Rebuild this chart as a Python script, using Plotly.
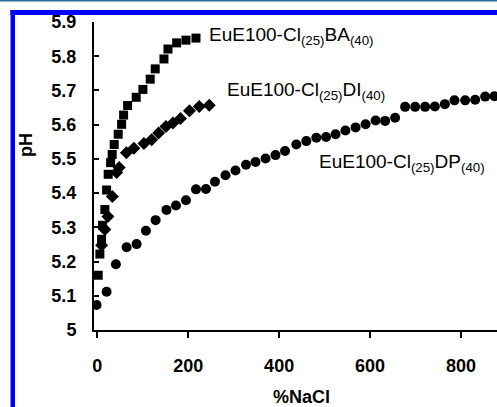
import plotly.graph_objects as go

# --- data ---
ba_x = [2.2, 5.9, 9.7, 11.9, 16.9, 20.7, 24.2, 29.5, 33.0, 37.4, 46.2, 53.7, 58.1, 66.9,
        85.8, 100.5, 116.6, 127.6, 146.8, 155.6, 174.7, 195.2, 217.2]
ba_y = [5.160, 5.222, 5.265, 5.306, 5.352, 5.409, 5.455, 5.489, 5.513, 5.542, 5.572, 5.601,
        5.628, 5.656, 5.680, 5.703, 5.733, 5.763, 5.792, 5.821, 5.839, 5.847, 5.853]

di_x = [9.7, 16.9, 23.5, 33.4, 42.7, 48.4, 64.2, 80.7, 102.8, 119.7, 135.1, 151.2, 166.6,
        183.1, 202.9, 224.4, 246.4]
di_y = [5.248, 5.294, 5.332, 5.390, 5.460, 5.475, 5.518, 5.531, 5.545, 5.556, 5.576, 5.595,
        5.605, 5.618, 5.641, 5.653, 5.657]

dp_x = [-1.3, 20.7, 41.1, 64.7, 86.7, 107.2, 128.5, 152.3, 173.2, 195.2, 217.2, 239.2, 259.0,
        282.1, 304.1, 327.2, 348.1, 370.1, 392.1, 413.0, 437.8, 459.8, 481.8, 503.2, 524.1,
        545.7, 568.1, 590.1, 612.1, 633.0, 655.0, 677.0, 699.0, 721.0, 742.4, 764.4, 785.5,
        809.0, 831.0, 853.0, 873.3]
dp_y = [5.073, 5.112, 5.192, 5.242, 5.251, 5.290, 5.321, 5.351, 5.364, 5.379, 5.411, 5.412,
        5.433, 5.452, 5.466, 5.483, 5.491, 5.501, 5.511, 5.523, 5.542, 5.552, 5.562, 5.564,
        5.572, 5.583, 5.592, 5.601, 5.612, 5.611, 5.620, 5.652, 5.652, 5.652, 5.653, 5.660,
        5.671, 5.671, 5.673, 5.682, 5.683]

x_ticks = [0, 200, 400, 600, 800]
y_ticks = [5.0, 5.1, 5.2, 5.3, 5.4, 5.5, 5.6, 5.7, 5.8, 5.9]
y_tick_text = ["5", "5.1", "5.2", "5.3", "5.4", "5.5", "5.6", "5.7", "5.8", "5.9"]

labels = {
    "BA": "EuE100-Cl<sub>(25)</sub>BA<sub>(40)</sub>",
    "DI": "EuE100-Cl<sub>(25)</sub>DI<sub>(40)</sub>",
    "DP": "EuE100-Cl<sub>(25)</sub>DP<sub>(40)</sub>",
}

FONT = "Arial, 'Liberation Sans', sans-serif"

fig = go.Figure()
fig.add_trace(go.Scatter(x=dp_x, y=dp_y, mode="markers",
                         marker=dict(symbol="circle", size=10, color="black"), cliponaxis=True))
fig.add_trace(go.Scatter(x=di_x, y=di_y, mode="markers",
                         marker=dict(symbol="diamond", size=10, color="black")))
fig.add_trace(go.Scatter(x=ba_x, y=ba_y, mode="markers",
                         marker=dict(symbol="square", size=9, color="black")))

fig.update_layout(
    width=497, height=407,
    margin=dict(l=94, r=0, t=22, b=77),
    paper_bgcolor="white", plot_bgcolor="white",
    showlegend=False,
    font=dict(family=FONT, color="black"),
    xaxis=dict(range=[-7, 879], tickvals=x_ticks, ticks="outside", ticklen=6, tickwidth=2,
               tickcolor="black", showline=True, linecolor="black", linewidth=2,
               showgrid=False, zeroline=False,
               tickfont=dict(size=18, family=FONT, color="black", weight="bold"),
               ticklabelstandoff=12),
    yaxis=dict(range=[5.0, 5.9], tickvals=y_ticks, ticktext=y_tick_text, ticks="inside",
               ticklen=5, tickwidth=2, tickcolor="black", showline=True, linecolor="black",
               linewidth=2, showgrid=False, zeroline=False,
               tickfont=dict(size=18, family=FONT, color="black", weight="bold"),
               ticklabelstandoff=12),
)

ann_font = dict(size=19, family=FONT, color="black")
fig.add_annotation(x=241, y=5.858, xref="x", yref="y", text=labels["BA"], showarrow=False,
                   xanchor="left", yanchor="middle", font=ann_font)
fig.add_annotation(x=281, y=5.698, xref="x", yref="y", text=labels["DI"], showarrow=False,
                   xanchor="left", yanchor="middle", font=ann_font)
fig.add_annotation(x=483, y=5.488, xref="x", yref="y", text=labels["DP"], showarrow=False,
                   xanchor="left", yanchor="middle", font=ann_font)

fig.add_annotation(x=-0.169, y=0.6, xref="paper", yref="paper", text="pH", textangle=-90,
                   showarrow=False, xanchor="center", yanchor="middle",
                   font=dict(size=18, family=FONT, color="black", weight="bold"))
fig.add_annotation(x=0.514, y=-0.218, xref="paper", yref="paper", text="%NaCl",
                   showarrow=False, xanchor="center", yanchor="middle",
                   font=dict(size=18, family=FONT, color="black", weight="bold"))

# decorative page frame (blue border of the source figure)
W, H = 403.0, 308.0
def px(xp):
    return (xp - 94) / W
def py(yp):
    return (330 - yp) / H
fig.add_shape(type="rect", xref="paper", yref="paper", x0=px(-5), x1=px(505), y0=py(0), y1=py(1.6),
              fillcolor="#2b6a9a", line_width=0, layer="above")
fig.add_shape(type="rect", xref="paper", yref="paper", x0=px(10.5), x1=px(505), y0=py(10), y1=py(15),
              fillcolor="#0000ff", line_width=0, layer="above")
fig.add_shape(type="rect", xref="paper", yref="paper", x0=px(10.5), x1=px(15), y0=py(10), y1=py(415),
              fillcolor="#0000ff", line_width=0, layer="above")

fig.write_html("out.html")
